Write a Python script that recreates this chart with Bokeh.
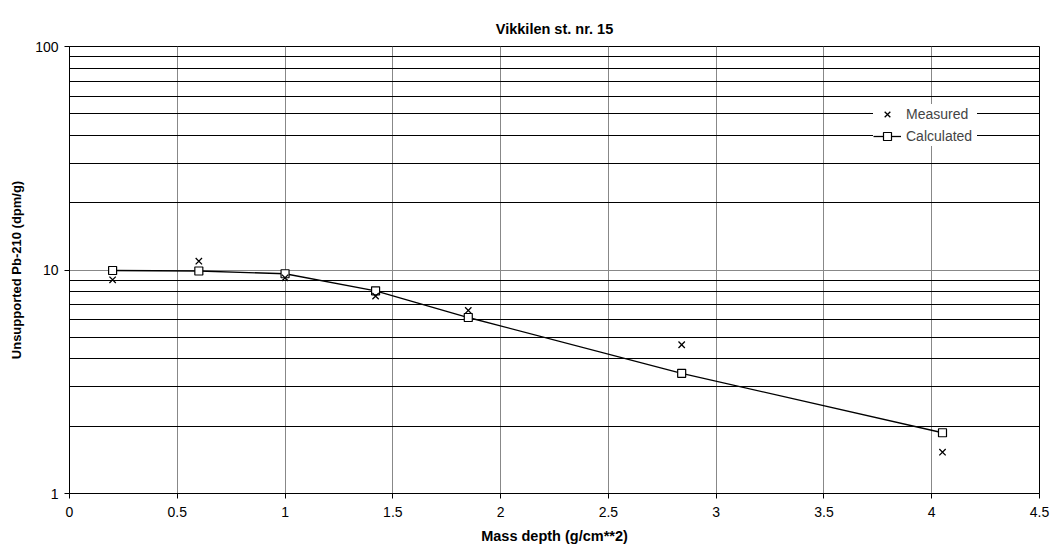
from bokeh.plotting import figure
from bokeh.models import FixedTicker, PrintfTickFormatter, Range1d, Legend, LegendItem
from bokeh.embed import file_html
from bokeh.resources import INLINE

title = "Vikkilen st. nr. 15"
x_label = "Mass depth (g/cm**2)"
y_label = "Unsupported Pb-210 (dpm/g)"

depth = [0.2, 0.6, 1.0, 1.42, 1.85, 2.84, 4.05]
measured = [9.04, 10.95, 9.23, 7.64, 6.59, 4.63, 1.53]
calculated = [9.95, 9.9, 9.62, 8.07, 6.13, 3.45, 1.87]

x_ticks = [0, 0.5, 1, 1.5, 2, 2.5, 3, 3.5, 4, 4.5]
y_ticks = [1, 10, 100]
y_minor = [2, 3, 4, 5, 6, 7, 8, 9, 20, 30, 40, 50, 60, 70, 80, 90]

FONT = "Liberation Sans"

p = figure(width=1059, height=550, y_axis_type="log",
           x_range=Range1d(0, 4.5), y_range=Range1d(1, 100),
           output_backend="svg", toolbar_location=None,
           min_border_left=69, min_border_right=20,
           min_border_top=46, min_border_bottom=57)

p.title.text = title
p.title.align = "center"
p.title.vertical_align = "top"
p.title.text_font = FONT
p.title.text_font_size = "14.5px"
p.title.text_font_style = "bold"
p.title.text_color = "black"
p.title.standoff = 16

p.outline_line_color = "black"
p.outline_line_width = 1

p.xaxis.ticker = FixedTicker(ticks=x_ticks)
p.yaxis.ticker = FixedTicker(ticks=y_ticks, minor_ticks=y_minor)
p.xaxis.formatter = PrintfTickFormatter(format="%g")
p.yaxis.formatter = PrintfTickFormatter(format="%g")

for ax in (p.xaxis, p.yaxis):
    ax.axis_line_color = "black"
    ax.major_tick_line_color = "black"
    ax.major_tick_out = 5
    ax.major_tick_in = 0
    ax.minor_tick_out = 0
    ax.minor_tick_in = 0
    ax.major_label_text_font = FONT
    ax.major_label_text_font_size = "14px"
    ax.major_label_text_color = "black"
    ax.axis_label_text_font = FONT
    ax.axis_label_text_font_style = "bold"
    ax.axis_label_text_color = "black"

p.xaxis.axis_label = x_label
p.yaxis.axis_label = y_label
p.xaxis.axis_label_text_font_size = "14.5px"
p.yaxis.axis_label_text_font_size = "13px"
p.xaxis.major_label_standoff = 8
p.xaxis.axis_label_standoff = 8
p.yaxis.major_label_standoff = 6
p.yaxis.axis_label_standoff = 8

p.xgrid.grid_line_color = "#888888"
p.xgrid.grid_line_width = 1
p.ygrid.grid_line_color = "#888888"
p.ygrid.minor_grid_line_color = "black"
p.ygrid.minor_grid_line_width = 1

line = p.line(depth, calculated, line_color="black", line_width=1.3)
sq = p.scatter(depth, calculated, marker="square", size=8,
               fill_color="white", line_color="black", line_width=1.2)
mx = p.scatter(depth, measured, marker="x", size=9,
               line_color="black", line_width=1.3)

legend = Legend(items=[LegendItem(label="Measured", renderers=[mx]),
                       LegendItem(label="Calculated", renderers=[line, sq])],
                location=(804, 347), background_fill_color="white",
                background_fill_alpha=1.0, border_line_color=None,
                label_text_font=FONT, label_text_font_size="14px",
                glyph_width=28, glyph_height=20, label_height=20,
                spacing=2, padding=4, margin=0,
                label_width=71)
p.add_layout(legend)

open("out.html", "w").write(file_html(p, INLINE))
